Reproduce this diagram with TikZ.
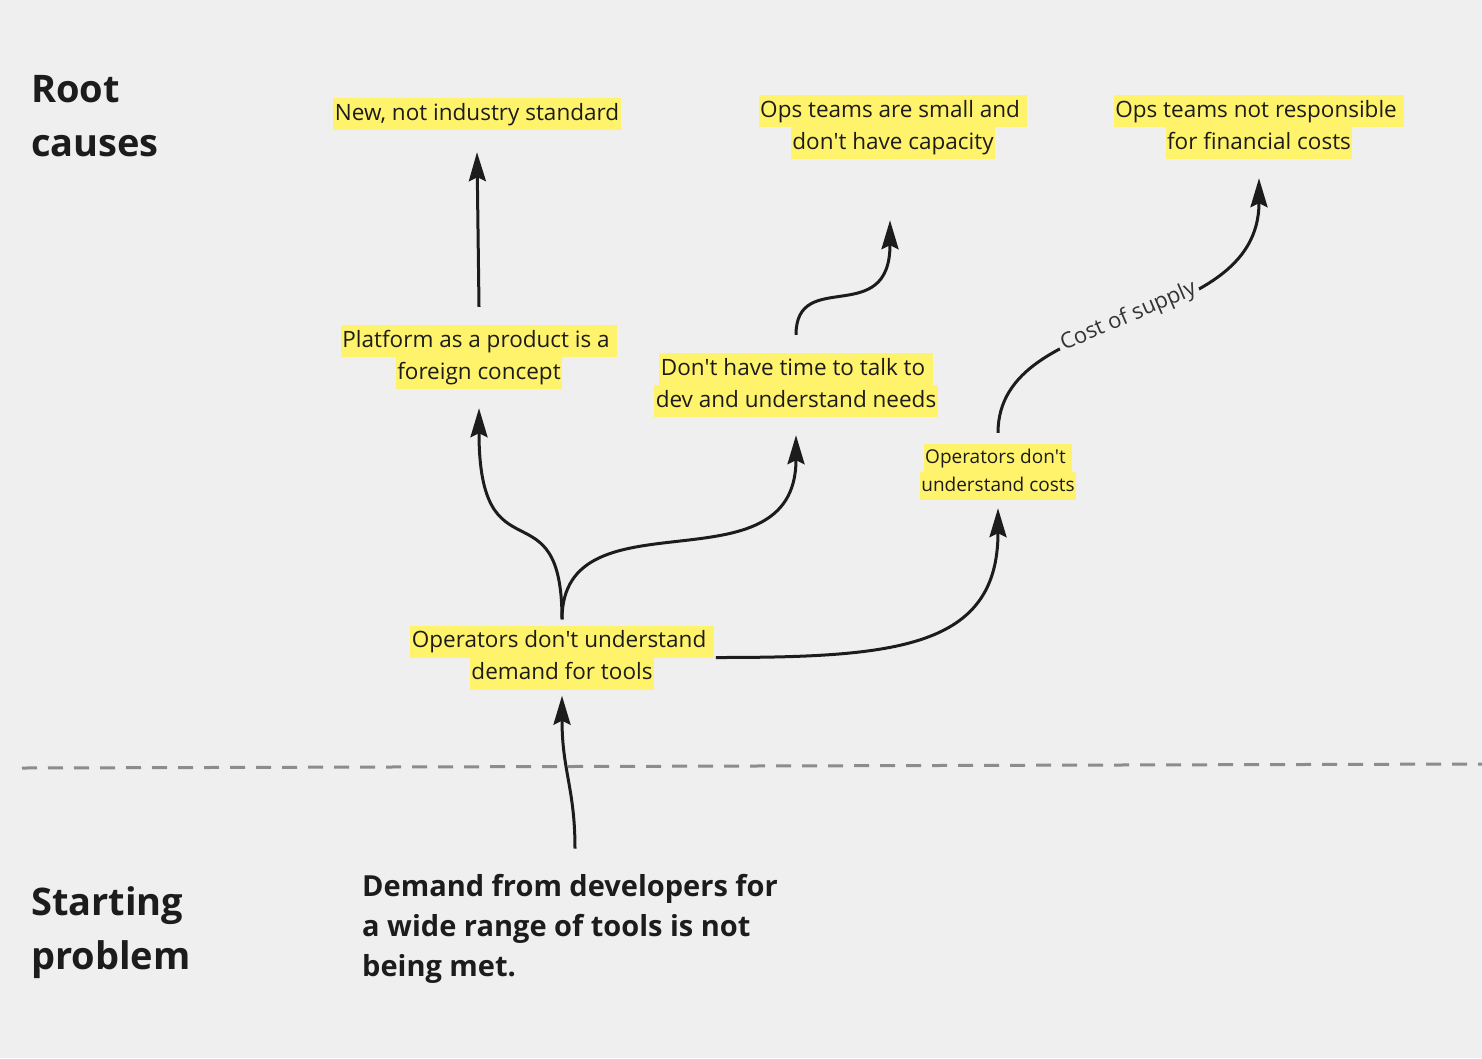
\documentclass[tikz,border=0pt]{standalone}
\usepackage{fontspec}
\setmainfont{Open Sans}
\usetikzlibrary{arrows.meta,positioning,calc}
\definecolor{Ink}{HTML}{1C1C1C}
\definecolor{Board}{HTML}{EFEFEF}
\definecolor{Marker}{HTML}{FFF36B}
\definecolor{Rule}{HTML}{8C8C8C}
\newcommand{\hilite}[1]{{\setlength{\fboxsep}{0pt}\colorbox{Marker}{\rule[-10pt]{0pt}{32pt}\hspace{1.5pt}#1\hspace{1.5pt}}}}
\newcommand{\hilitesm}[1]{{\setlength{\fboxsep}{0pt}\colorbox{Marker}{\rule[-9pt]{0pt}{28pt}\hspace{1.5pt}#1\hspace{1.5pt}}}}
\newcommand{\apos}{\textquotesingle}
\tikzset{
 note/.style={inner sep=0pt,align=center,text=Ink,font=\fontsize{22.5pt}{32pt}\selectfont},
 smallnote/.style={note,font=\fontsize{19pt}{28pt}\selectfont},
 heading/.style={inner sep=0pt,align=left,anchor=base west,text=Ink,font=\bfseries\fontsize{38pt}{54pt}\selectfont},
 problem/.style={inner sep=0pt,align=left,anchor=base west,text=Ink,font=\bfseries\fontsize{29pt}{40pt}\selectfont},
 arr/.style={-{Stealth[length=29pt,width=17pt,inset=4pt]},line width=3pt,draw=Ink},
 elabel/.style={font=\fontsize{22pt}{26pt}\selectfont,text=Ink!90,fill=Board,inner sep=3pt,sloped}
}
\begin{document}
\begin{tikzpicture}[x=1pt,y=-1pt]
\fill[Board] (0,0) rectangle (1482,1058);
\useasboundingbox (0,0) rectangle (1482,1058);
% section headings (base = last line)
\node[heading] (root) at (31,156) {Root\\causes};
\node[heading] (sp) at (31,969) {Starting\\problem};
\coordinate (dl) at (22,768); \coordinate (dr) at (1482,764);
\draw[Rule,line width=3pt,dash pattern=on 15pt off 11pt] (dl)--(dr);
% causes
\node[note] (new) at (477,114) {\hilite{New, not industry standard}};
\node[note] (ops) at (893,127) {\hilite{Ops teams are small and\ }\\\hilite{don\apos t have capacity}};
\node[note] (fin) at (1259,127) {\hilite{Ops teams not responsible\ }\\\hilite{for financial costs}};
\node[note] (plat) at (479,357) {\hilite{Platform as a product is a\ }\\\hilite{foreign concept}};
\node[note] (talk) at (796,385) {\hilite{Don\apos t have time to talk to\ }\\\hilite{dev and understand needs}};
\node[smallnote] (cost) at (998,472) {\hilitesm{Operators don\apos t\ }\\\hilitesm{understand costs}};
\node[note] (dem) at (562,657.5) {\hilite{Operators don\apos t understand\ }\\\hilite{demand for tools}};
\node[problem] (start) at (362,976) {Demand from developers for\\a wide range of tools is not\\being met.};
% links
\draw[arr] ([yshift=18pt]plat.north)--([yshift=-22pt]new.south);
\draw[arr] ([yshift=18pt]talk.north) .. controls +(0,-68) and +(0,109) .. ([xshift=-3pt,yshift=-61pt]ops.south);
\draw[arr] ([yshift=6pt]dem.north) .. controls +(0,-138) and +(0,175) .. ([yshift=-19pt]plat.south);
\draw[arr] ([yshift=6pt]dem.north) .. controls +(0,-131) and +(0,160) .. ([yshift=-18pt]talk.south);
\draw[arr] ([xshift=2pt]dem.east) .. controls +(180,0) and +(0,140) .. ([yshift=-8pt]cost.south);
\draw[arr] ([yshift=11pt]cost.north) .. controls +(0,-128) and +(0,158) .. ([yshift=-19pt]fin.south) node[elabel,pos=0.5] {Cost of supply};
\draw[arr] ([xshift=213pt,yshift=25pt]start.north west) .. controls +(0,-60) and +(0,75) .. ([yshift=-6pt]dem.south);
\end{tikzpicture}
\end{document}
